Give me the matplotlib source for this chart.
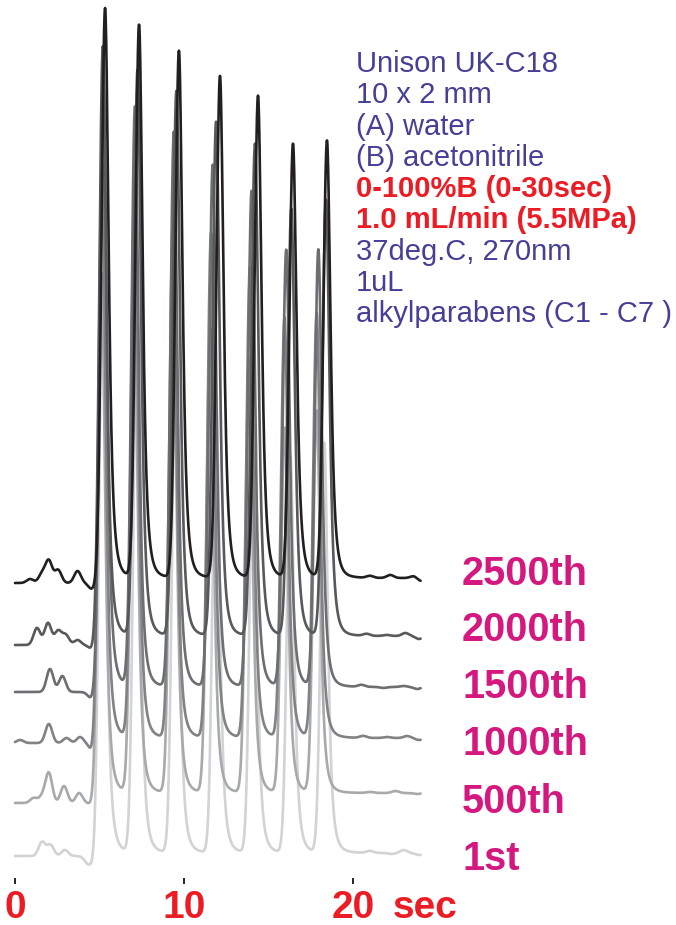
import numpy as np
import matplotlib.pyplot as plt
from matplotlib.transforms import blended_transform_factory

plt.rcParams['font.family'] = ['Liberation Sans', 'DejaVu Sans']

# runs, from the newest (top) to the first (bottom)
runs = ['2500th', '2000th', '1500th', '1000th', '500th', '1st']
colors = ['#231f20', '#58595b', '#6d6e71', '#808285', '#a7a9ac', '#d1d3d4']
offsets = [306, 248, 197, 146, 91, 31]        # stacking offset of each run
pre_level = [-5, -9, -5, -5, -10, -3]         # baseline before the first peak
label_pos = [310, 254, 197, 140, 82, 25]      # height of the run labels

# retention times (sec) of the 7 parabens, C1 .. C7
rt = {
    '2500th': [5.33, 7.34, 9.70, 12.13, 14.38, 16.45, 18.46],
    '2000th': [5.20, 7.25, 9.55, 11.90, 14.20, 16.35, 18.40],
    '1500th': [5.22, 7.10, 9.40, 11.70, 14.00, 16.05, 17.95],
    '1000th': [5.15, 7.08, 9.35, 11.60, 13.90, 15.95, 17.85],
    '500th':  [5.12, 7.05, 9.35, 11.55, 13.85, 15.95, 17.85],
    '1st':    [5.18, 7.20, 9.50, 11.90, 14.10, 16.30, 18.30],
}
# peak heights
height = {
    '2500th': [570, 553, 527, 502, 482, 434, 437],
    '2000th': [590, 566, 545, 514, 492, 427, 436],
    '1500th': [606, 580, 555, 522, 496, 437, 437],
    '1000th': [575, 560, 520, 505, 470, 420, 425],
    '500th':  [520, 500, 507, 465, 435, 365, 382],
    '1st':    [565, 514, 487, 457, 430, 397, 410],
}
# small baseline disturbances (time, height)
noise_t = {
    '2500th': [0.89, 1.60, 2.00, 2.55, 3.70, 4.55, 21.0, 22.2, 23.6, 24.0],
    '2000th': [1.30, 1.95, 2.55, 3.00, 3.70, 4.55, 20.8, 22.0, 23.1, 23.9],
    '1500th': [2.07, 2.80, 4.50, 20.5, 21.8, 23.0, 23.8],
    '1000th': [0.30, 2.00, 3.05, 3.85, 4.60, 20.6, 22.0, 23.2, 23.9],
    '500th':  [1.10, 1.60, 2.00, 2.90, 3.80, 4.60, 21.0, 22.5, 23.8],
    '1st':    [1.60, 2.10, 2.95, 4.30, 4.70, 21.0, 22.3, 23.0, 23.9],
}
noise_h = {
    '2500th': [4, 9, 22, 13, 12, -6, 2, 3, 2, -3],
    '2000th': [17, 22, 14, 10, 5, -4, 2, 1, 3, -3],
    '1500th': [23, 16, -6, 2, -1, 1, -2],
    '1000th': [3, 19, 5, 6, -9, 2, 1, 2, -2],
    '500th':  [5, 6, 30, 17, 10, -2, 1, 2, -1],
    '1st':    [14, 11, 6, -7, -9, 2, -1, 3, -2],
}

info_lines = ['Unison UK-C18', '10 x 2 mm', '(A) water', '(B) acetonitrile',
              '0-100%B (0-30sec)', '1.0 mL/min (5.5MPa)', '37deg.C, 270nm',
              '1uL', 'alkylparabens (C1 - C7 )']
info_bold = [False, False, False, False, True, True, False, False, False]

purple = '#463f97'
red = '#ec1c24'
magenta = '#d4187f'


def peak(t, t0, h):
    # sharp front, tailing back
    left = h * np.exp(-0.5 * ((t - t0) / 0.21) ** 2)
    right = h / (1 + ((t - t0) / 0.38) ** 2) ** 2
    return np.where(t < t0, left, right)


t = np.linspace(0, 24, 1500)

fig = plt.figure(figsize=(6.76, 9.25), dpi=100)
ax = fig.add_axes([0, 41 / 925, 1, 884 / 925])

order = [5, 4, 3, 2, 1, 0]
for i in order:
    name = runs[i]
    y = np.where(t < 5.0, pre_level[i], 0.0)
    for tn, hn in zip(noise_t[name], noise_h[name]):
        y = y + hn * np.exp(-0.5 * ((t - tn) / 0.2) ** 2)
    for t0, h in zip(rt[name], height[name]):
        y = y + peak(t, t0, h)
    ax.plot(t, y + offsets[i], color=colors[i], lw=1.9, solid_capstyle='round')
    ax.text(26.45, label_pos[i], name, color=magenta, fontsize=28.5,
            fontweight='bold', va='center', ha='left')

ax.set_xlim(-15 / 16.9, 661 / 16.9)
ax.set_ylim(0, 884)
for s in ax.spines.values():
    s.set_visible(False)
ax.set_yticks([])
ax.set_xticks([0, 10, 20])
ax.set_xticklabels(['0', '10', '20'])
ax.tick_params(axis='x', direction='in', length=4.5, width=1.2, color='black',
               pad=4, labelsize=28, labelcolor=red)
for lab in ax.get_xticklabels():
    lab.set_fontweight('bold')
trans = blended_transform_factory(ax.transData, ax.transAxes)
ax.text(22.37, -5.5 / 884, 'sec', transform=trans, color=red, fontsize=28,
        fontweight='bold', va='top', ha='left')

for k, line in enumerate(info_lines):
    yb = 72 + 31.3 * k
    fig.text(356 / 676, 1 - yb / 925, line, fontsize=21,
             color=red if info_bold[k] else purple,
             fontweight='bold' if info_bold[k] else 'normal',
             va='baseline', ha='left')

fig.savefig('out.png', dpi=100)
